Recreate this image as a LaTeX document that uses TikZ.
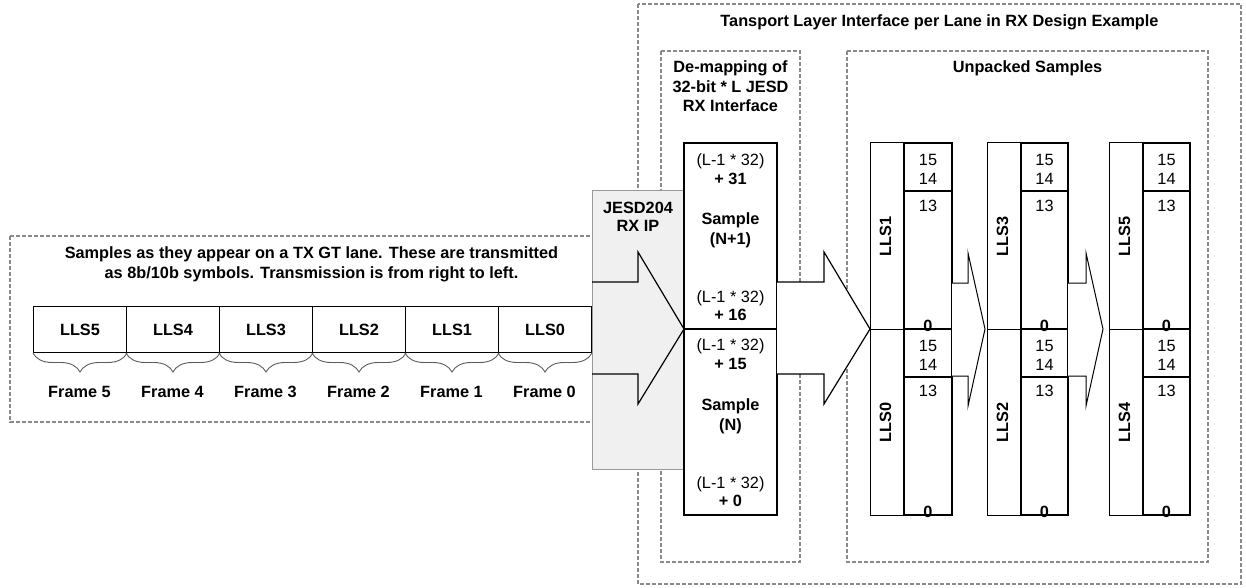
\documentclass[tikz,border=0pt]{standalone}
\usepackage{fontspec}
\setmainfont{Liberation Sans}
\usetikzlibrary{decorations.pathreplacing}
\definecolor{dashgray}{HTML}{8A8A8A}
\definecolor{boxgray}{HTML}{F0F0F0}
\definecolor{boxedge}{HTML}{9A9A9A}
\definecolor{bracegray}{HTML}{5A5A5A}
\newcommand{\fsz}{\fontsize{16.3}{19.5}\selectfont}
\begin{document}
\begin{tikzpicture}[x=1pt,y=-1pt,
  font=\fsz,
  dbox/.style={draw=dashgray, line width=1.8pt, dash pattern=on 4pt off 2pt},
  cellbox/.style={draw=black, line width=1pt, fill=white, inner sep=0pt, font=\fsz\bfseries},
  thincol/.style={draw=black, line width=1pt},
  thickcol/.style={draw=black, line width=2pt},
  txt/.style={inner sep=0pt, anchor=base},
  btxt/.style={txt, font=\fsz\bfseries},
  rtxt/.style={inner sep=0pt, rotate=90, font=\fsz\bfseries},
  blockarrow/.style={draw=black, line width=1.2pt, line join=miter},
  framebrace/.style={draw=bracegray, line width=0.9pt, decorate, decoration={brace, mirror, amplitude=19pt}}
]
\useasboundingbox (0,0) rectangle (1246,588);

% dashed frames
\draw[dbox] (638,4) rectangle (1241,584);
\node[btxt] (ttl) at (939.5,26.5) {Tansport Layer Interface per Lane in RX Design Example};
\draw[dbox] (661,51) rectangle (800,562);
\node[btxt] (dmt1) at (730.5,73) {De-mapping of};
\node[btxt] (dmt2) at (730.5,92.5) {32-bit * L JESD};
\node[btxt] (dmt3) at (730.5,112) {RX Interface};
\draw[dbox] (847,51) rectangle (1208,562);
\node[btxt] (upt) at (1027.5,72.5) {Unpacked Samples};
\draw[dbox] (10,236) rectangle (600,422);
\node[btxt] (ln1) at (311.5,258.3) {Samples as they appear on a TX GT lane. These are transmitted};
\node[btxt] (ln2) at (311.5,278) {as 8b/10b symbols. Transmission is from right to left.};

% lane symbols
\foreach \i/\x in {5/33,4/126,3/219,2/312,1/405,0/498} {
  \node[cellbox, minimum width=93pt, minimum height=46pt, anchor=north west] (c\i) at (\x,306) {LLS\i};
  \draw[framebrace] (c\i.south west) -- (c\i.south east);
  \node[btxt] (f\i) at ({\x+46.5},397) {Frame \i};
}

% JESD204 RX IP
\node[draw=boxedge, fill=boxgray, line width=1.2pt, minimum width=92pt, minimum height=279pt, anchor=north west, inner sep=0pt] (jesd) at (592,190) {};
\node[btxt] (j1) at (638,213.3) {JESD204};
\node[btxt] (j2) at (638,231.7) {RX IP};
\draw[blockarrow] (592,282) -- (638,282) -- (638,252) -- (684,329) -- (638,404) -- (638,374) -- (592,374);

% de-mapping block
\draw[thickcol, fill=white] (684,143) rectangle (777,329);
\draw[thickcol, fill=white] (684,329) rectangle (777,515);
\node[txt]  (d1) at (730.5,165.7) {(L-1 * 32)};
\node[btxt] (d2) at (730.5,184) {+ 31};
\node[btxt] (d3) at (730.5,224) {Sample};
\node[btxt] (d4) at (730.5,244) {(N+1)};
\node[txt]  (d5) at (730.5,302.7) {(L-1 * 32)};
\node[btxt] (d6) at (730.5,320.7) {+ 16};
\node[txt]  (d7) at (730.5,350) {(L-1 * 32)};
\node[btxt] (d8) at (730.5,369.3) {+ 15};
\node[btxt] (d9) at (730.5,410) {Sample};
\node[btxt] (d10) at (730.5,430) {(N)};
\node[txt]  (d11) at (730.5,488.3) {(L-1 * 32)};
\node[btxt] (d12) at (730.5,506.7) {+ 0};
\draw[blockarrow, fill=white] (777,282) -- (824,282) -- (824,252) -- (870,329) -- (824,404) -- (824,374) -- (777,374);

% unpacked sample columns
\foreach \k/\nx/\dx/\r/\up/\lo in {0/870/904/952/1/0, 1/987/1021/1068/3/2, 2/1109/1143/1190/5/4} {
  \draw[thincol] (\nx,143) rectangle (\dx,329);
  \draw[thincol] (\nx,329) rectangle (\dx,515);
  \node[rtxt] (n\up) at ({(\nx+\dx)/2-1.5},236.5) {LLS\up};
  \node[rtxt] (n\lo) at ({(\nx+\dx)/2-1.5},422.5) {LLS\lo};
  \node[txt]  (a15u\k) at ({(\dx+\r)/2},165.7) {15};
  \node[txt]  (a14u\k) at ({(\dx+\r)/2},185) {14};
  \node[txt]  (a13u\k) at ({(\dx+\r)/2},211.7) {13};
  \node[btxt] (a0u\k)  at ({(\dx+\r)/2},331) {0};
  \node[txt]  (a15l\k) at ({(\dx+\r)/2},351) {15};
  \node[txt]  (a14l\k) at ({(\dx+\r)/2},370.7) {14};
  \node[txt]  (a13l\k) at ({(\dx+\r)/2},396.7) {13};
  \node[btxt] (a0l\k)  at ({(\dx+\r)/2},517) {0};
  \draw[thickcol] (\dx,143) rectangle (\r,191);
  \draw[thickcol] (\dx,191) rectangle (\r,329);
  \draw[thickcol] (\dx,329) rectangle (\r,377);
  \draw[thickcol] (\dx,377) rectangle (\r,515);
}
\draw[blockarrow, line width=1pt, fill=white] (952,283) -- (968,283) -- (968,253) -- (985,329) -- (968,406) -- (968,376) -- (952,376);
\draw[blockarrow, line width=1pt, fill=white] (1068,283) -- (1086,283) -- (1086,253) -- (1103,329) -- (1086,406) -- (1086,376) -- (1068,376);
\end{tikzpicture}
\end{document}
